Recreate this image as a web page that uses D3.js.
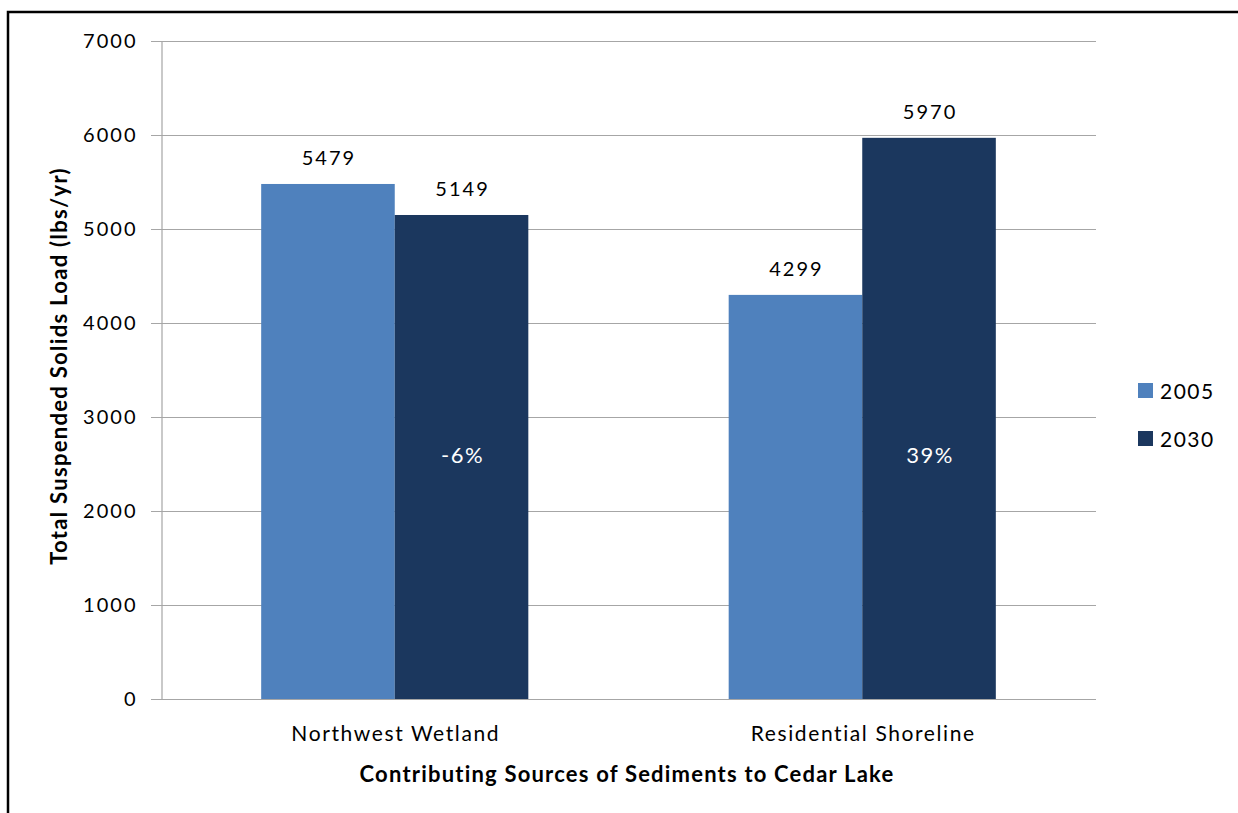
<!DOCTYPE html>
<html>
<head>
<meta charset="utf-8">
<script src="https://cdn.jsdelivr.net/npm/d3@7"></script>
<style>
  html, body { margin: 0; padding: 0; background: #fff; }
  svg { display: block; }
  text { font-family: Lato, "Open Sans", sans-serif; fill: #000; }
</style>
</head>
<body>
<svg id="chart" width="1238" height="813"></svg>
<script>
// Sediment loads to Cedar Lake, by source and year
const categories = ["Northwest Wetland", "Residential Shoreline"];
const years = ["2005", "2030"];
const load2005 = [5479, 4299];
const load2030 = [5149, 5970];
const changeLabels = ["-6%", "39%"];
const yTicks = [0, 1000, 2000, 3000, 4000, 5000, 6000, 7000];
const colors = ["#4F81BD", "#1B375E"];

const svg = d3.select("#chart");

// outer frame
svg.append("path")
  .attr("d", "M8,813 V12 H1238")
  .attr("fill", "none")
  .attr("stroke", "#000")
  .attr("stroke-width", 2.5);

const plot = { left: 161, right: 1096, top: 41, bottom: 699 };

const y = d3.scaleLinear().domain([0, 7000]).range([plot.bottom, plot.top]);
const x0 = d3.scaleBand().domain(categories).range([plot.left, plot.right]).paddingInner(0).paddingOuter(0);
const x1 = d3.scaleBand().domain(years).range([0, x0.bandwidth()]).paddingInner(0).paddingOuter(0.75);

// gridlines
svg.append("g")
  .selectAll("line")
  .data(yTicks)
  .join("line")
  .attr("x1", plot.left - 10)
  .attr("x2", plot.right)
  .attr("y1", d => Math.round(y(d)) + 0.5)
  .attr("y2", d => Math.round(y(d)) + 0.5)
  .attr("stroke", "#A6A6A6")
  .attr("stroke-width", 1.2);

// y axis
const yAxis = svg.append("g")
  .attr("transform", `translate(${plot.left + 0.5},0)`)
  .call(d3.axisLeft(y).tickValues(yTicks).tickSize(10).tickPadding(14).tickFormat(d3.format("d")));
yAxis.select(".domain").attr("stroke", "#A6A6A6").attr("stroke-width", 1.2);
yAxis.selectAll(".tick line").attr("stroke", "#A6A6A6");
yAxis.selectAll("text")
  .attr("font-size", 20)
  .attr("letter-spacing", 2)
  .attr("font-family", "Lato, sans-serif")
  .attr("fill", "#000");

// bars
const rows = categories.map((c, i) => ({ cat: c, vals: [load2005[i], load2030[i]], change: changeLabels[i] }));

const groups = svg.append("g").selectAll("g")
  .data(rows)
  .join("g")
  .attr("transform", d => `translate(${x0(d.cat)},0)`);

groups.selectAll("rect")
  .data(d => d.vals.map((v, j) => ({ year: years[j], v, j })))
  .join("rect")
  .attr("x", d => x1(d.year))
  .attr("width", x1.bandwidth())
  .attr("y", d => y(d.v))
  .attr("height", d => y(0) - y(d.v))
  .attr("fill", d => colors[d.j]);

// value labels
groups.selectAll("text.val")
  .data(d => d.vals.map((v, j) => ({ year: years[j], v })))
  .join("text")
  .attr("class", "val")
  .attr("x", d => x1(d.year) + x1.bandwidth() / 2 + 1)
  .attr("y", d => y(d.v) - 19)
  .attr("text-anchor", "middle")
  .attr("font-size", 20)
  .attr("letter-spacing", 2)
  .text(d => d.v);

// percent change inside 2030 bar
groups.append("text")
  .attr("x", x1("2030") + x1.bandwidth() / 2 + 1)
  .attr("y", 463)
  .attr("text-anchor", "middle")
  .attr("font-size", 22)
  .attr("letter-spacing", 1.5)
  .style("fill", "#fff")
  .text(d => d.change);

// x axis labels
svg.append("g").selectAll("text")
  .data(categories)
  .join("text")
  .attr("x", d => x0(d) + x0.bandwidth() / 2 + 1)
  .attr("y", 741)
  .attr("text-anchor", "middle")
  .attr("font-size", 21)
  .attr("letter-spacing", 1.6)
  .text(d => d);

// axis titles
svg.append("text")
  .attr("x", 627)
  .attr("y", 782)
  .attr("text-anchor", "middle")
  .attr("font-size", 22)
  .attr("letter-spacing", 1.2)
  .attr("font-weight", "bold")
  .text("Contributing Sources of Sediments to Cedar Lake");

svg.append("text")
  .attr("transform", "translate(67,366) rotate(-90)")
  .attr("text-anchor", "middle")
  .attr("font-size", 22)
  .attr("letter-spacing", 1.3)
  .attr("font-weight", "bold")
  .text("Total Suspended Solids Load (lbs/yr)");

// legend
const legend = svg.append("g").selectAll("g")
  .data(years)
  .join("g")
  .attr("transform", (d, i) => `translate(1138,${383 + i * 48})`);
legend.append("rect")
  .attr("width", 15)
  .attr("height", 15)
  .attr("fill", (d, i) => colors[i]);
legend.append("text")
  .attr("x", 22)
  .attr("y", 16)
  .attr("font-size", 21)
  .attr("letter-spacing", 1.5)
  .text(d => d);
</script>
</body>
</html>
